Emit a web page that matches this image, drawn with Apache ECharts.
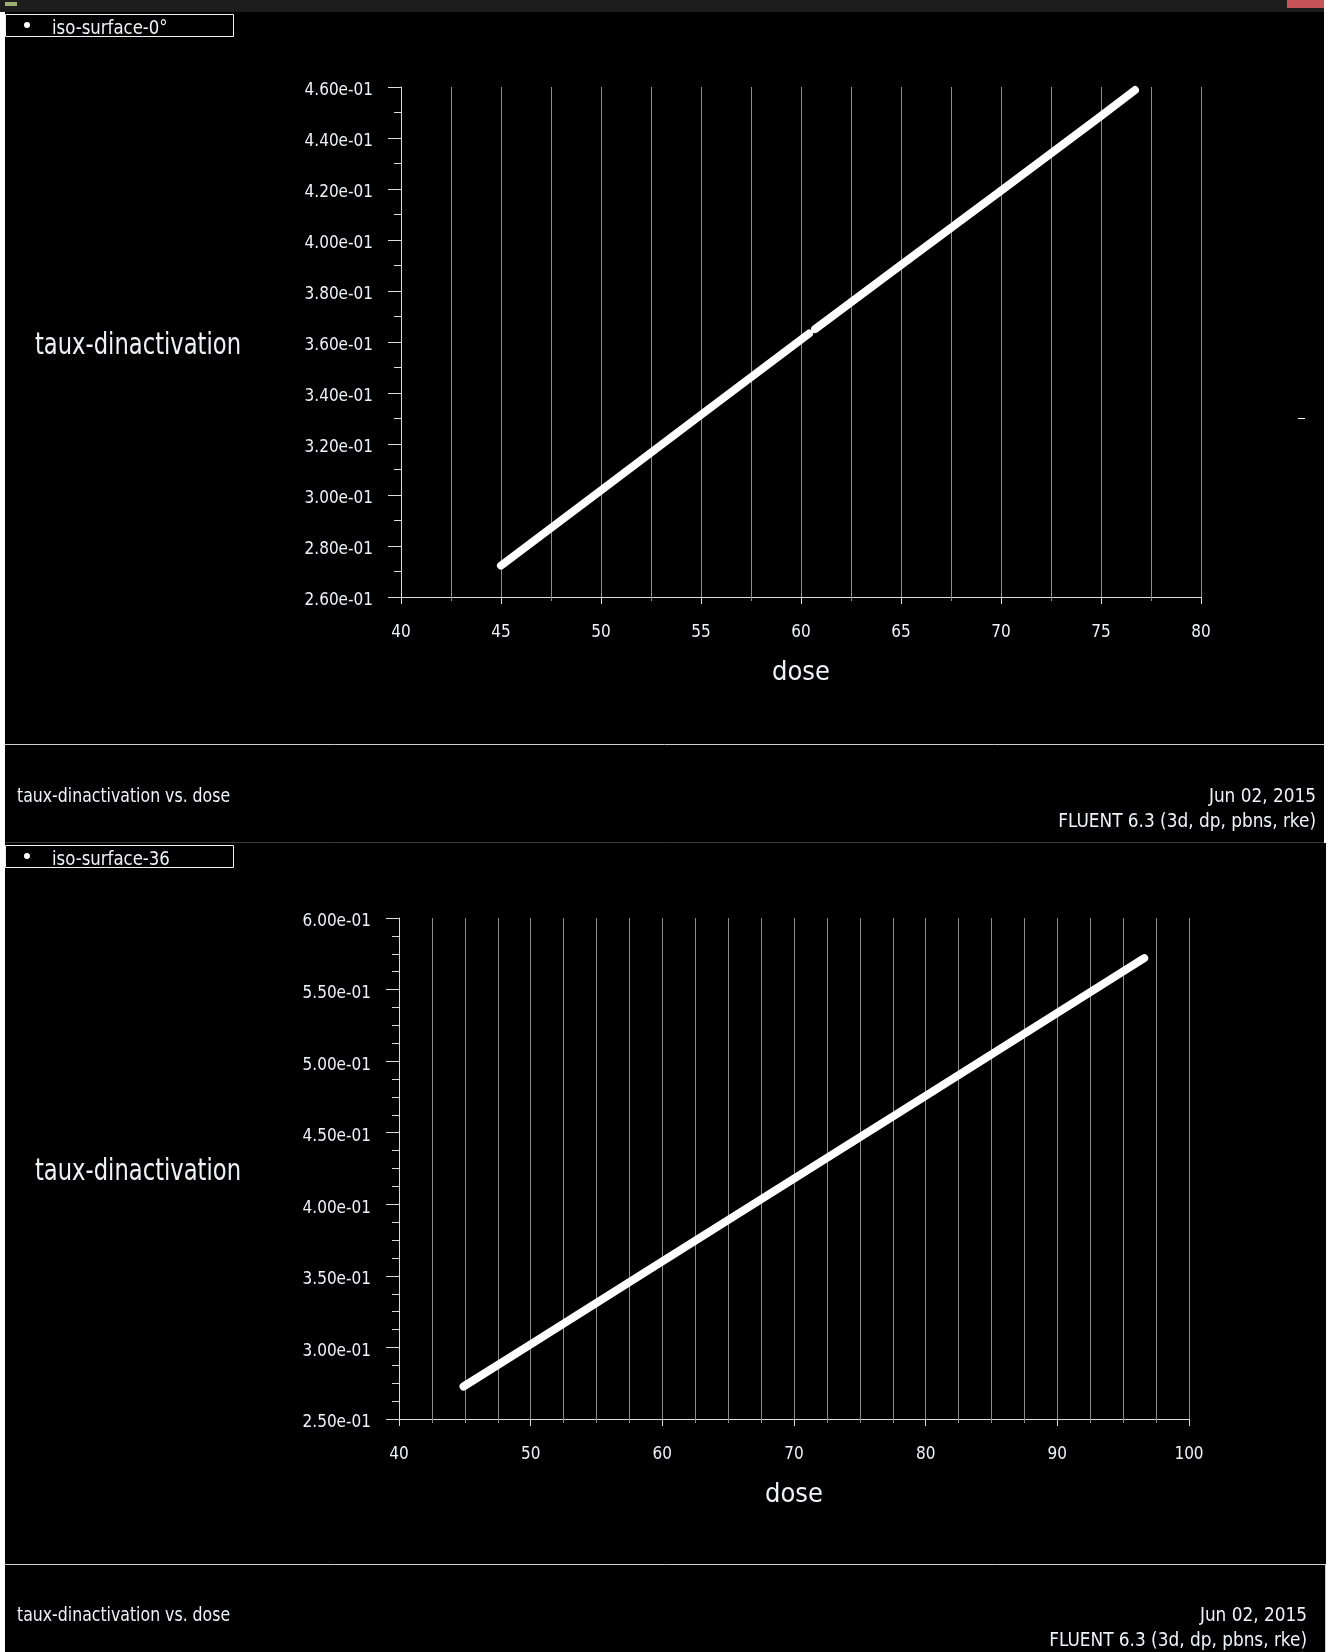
<!DOCTYPE html>
<html>
<head>
<meta charset="utf-8">
<title>taux-dinactivation vs. dose</title>
<script src="https://cdn.jsdelivr.net/npm/echarts@6/dist/echarts.min.js"></script>
<style>
  html, body { margin: 0; padding: 0; background: #ffffff; }
  #chart { width: 1333px; height: 1652px; }
</style>
</head>
<body>
<div id="chart"></div>
<script>
// iso-surface-0° : dose vs. taux-dinactivation (a '-' marks the small break in the curve)
const TOP_DOSE = [45.0, 50, 55, 60.40, 60.55, 60.71, 65, 70, 75, 76.7];
const TOP_TAUX = [0.2723, 0.3018, 0.3314, 0.3633, '-', 0.3651, 0.3902, 0.4193, 0.4486, 0.4588];

// iso-surface-36
const BOTTOM_DOSE = [44.9, 50, 60, 70, 80, 90, 96.6];
const BOTTOM_TAUX = [0.2727, 0.3022, 0.3601, 0.4180, 0.4758, 0.5337, 0.5719];

// axis ranges
const TOP_X = { min: 40, max: 80, interval: 5, minor: 2 };
const TOP_Y = { min: 0.26, max: 0.46, interval: 0.02, minor: 2 };
const BOTTOM_X = { min: 40, max: 100, interval: 10, minor: 4 };
const BOTTOM_Y = { min: 0.25, max: 0.60, interval: 0.05, minor: 4 };

const LEGEND_NAMES = ['iso-surface-0°', 'iso-surface-36'];
const PLOT_TITLE = 'taux-dinactivation vs. dose';
const Y_TITLE = 'taux-dinactivation';
const X_TITLE = 'dose';
const DATE_TEXT = 'Jun 02, 2015';
const VERSION_TEXT = 'FLUENT 6.3 (3d, dp, pbns, rke)';

const FONT = "'Liberation Sans Narrow', 'DejaVu Sans Condensed', 'Liberation Sans', sans-serif";
const TEXT = '#eef3f8';
const AXIS = '#dcdcdc';
const GRID = '#8c8c8c';

// 0.46 -> "4.60e-01"
const sci = v => {
  const s = Number(v).toExponential(2);
  return s.replace(/e([+-])(\d)$/, 'e$10$2');
};

const pairs = (xs, ys) => xs.map((x, i) => [x, ys[i]]);

function xAxisOf(r, gridIndex) {
  return {
    type: 'value', gridIndex, min: r.min, max: r.max, interval: r.interval,
    name: X_TITLE, nameLocation: 'middle', nameGap: 62,
    nameTextStyle: { color: TEXT, fontSize: 27, fontFamily: FONT },
    axisLine: { show: true, lineStyle: { color: AXIS, width: 1 } },
    axisTick: { show: true, inside: false, length: 7, lineStyle: { color: AXIS } },
    minorTick: { show: true, splitNumber: r.minor, length: 4, lineStyle: { color: GRID } },
    axisLabel: { color: TEXT, fontSize: 17, fontFamily: FONT, margin: 27 },
    splitLine: { show: true, lineStyle: { color: GRID, width: 1 } },
    minorSplitLine: { show: true, lineStyle: { color: GRID, width: 1 } }
  };
}

function yAxisOf(r, gridIndex) {
  return {
    type: 'value', gridIndex, min: r.min, max: r.max, interval: r.interval,
    axisLine: { show: true, lineStyle: { color: AXIS, width: 1 } },
    axisTick: { show: true, inside: false, length: 13, lineStyle: { color: AXIS } },
    minorTick: { show: true, splitNumber: r.minor, length: 7, lineStyle: { color: AXIS } },
    axisLabel: {
      color: TEXT, fontSize: 17, fontFamily: FONT, margin: 28, formatter: sci,
      verticalAlign: 'top', lineHeight: 8
    },
    splitLine: { show: false },
    minorSplitLine: { show: false }
  };
}

function curve(xs, ys, idx) {
  return {
    type: 'line', xAxisIndex: idx, yAxisIndex: idx,
    data: pairs(xs, ys), showSymbol: false, symbol: 'none',
    connectNulls: false, clip: true,
    lineStyle: { color: '#ffffff', width: 8, cap: 'round', join: 'round' },
    z: 5
  };
}

function txt(x, y, text, size, align, sx) {
  return {
    type: 'text', x, y, z: 20, scaleX: sx || 1,
    style: { text, fill: TEXT, fontSize: size, fontFamily: FONT, align: align || 'left', verticalAlign: 'middle' }
  };
}
function rect(x, y, w, h, fill) {
  return { type: 'rect', shape: { x, y, width: w, height: h }, style: { fill }, z: 1 };
}
function hline(x1, x2, y, stroke) {
  return { type: 'line', shape: { x1, y1: y, x2, y2: y }, style: { stroke, lineWidth: 1 }, z: 2 };
}
function vline(x, y1, y2, stroke) {
  return { type: 'line', shape: { x1: x, y1, x2: x, y2 }, style: { stroke, lineWidth: 1 }, z: 2 };
}
function legendBox(y, name) {
  return [
    { type: 'rect', shape: { x: 5.5, y: y + 0.5, width: 228, height: 22 }, style: { fill: 'none', stroke: '#f0f0f0', lineWidth: 1 }, z: 10 },
    { type: 'circle', shape: { cx: 27, cy: y + 11, r: 3 }, style: { fill: '#ffffff' }, z: 11 },
    txt(52, y + 15, name, 20, 'left', 0.92)
  ];
}

const chart = echarts.init(document.getElementById('chart'), null, { renderer: 'canvas' });

chart.setOption({
  backgroundColor: '#000000',
  animation: false,
  grid: [
    { left: 401, top: 87, width: 800, height: 510 },
    { left: 399, top: 918, width: 790, height: 501 }
  ],
  xAxis: [xAxisOf(TOP_X, 0), xAxisOf(BOTTOM_X, 1)],
  yAxis: [yAxisOf(TOP_Y, 0), yAxisOf(BOTTOM_Y, 1)],
  series: [curve(TOP_DOSE, TOP_TAUX, 0), curve(BOTTOM_DOSE, BOTTOM_TAUX, 1)],
  graphic: [
    // window frame
    rect(0, 0, 1324, 12, '#1d1d1d'),
    rect(1287, 0, 37, 8, '#c8545a'),
    rect(5, 2, 12, 4, '#9fae72'),
    rect(0, 12, 5, 1640, '#ffffff'),
    rect(1324, 0, 9, 843, '#ffffff'),
    rect(1326, 843, 7, 809, '#ffffff'),
    // panel separators
    hline(5, 1324, 744.5, '#cfcfcf'),
    hline(5, 1324, 842.5, '#3a3a3a'),
    hline(5, 1326, 1564.5, '#cfcfcf'),
    vline(1325.5, 1564, 1652, '#cfcfcf'),
    { type: 'line', shape: { x1: 1298, y1: 418.5, x2: 1305, y2: 418.5 }, style: { stroke: '#ffffff', lineWidth: 1 }, z: 2 },
    // legends
    ...legendBox(14, LEGEND_NAMES[0]),
    ...legendBox(845, LEGEND_NAMES[1]),
    // y-axis titles
    txt(138, 346, Y_TITLE, 30, 'center', 0.84),
    txt(138, 1172, Y_TITLE, 30, 'center', 0.84),
    // footers
    txt(17, 797, PLOT_TITLE, 20, 'left', 0.875),
    txt(1316, 797, DATE_TEXT, 20, 'right', 0.94),
    txt(1316, 822, VERSION_TEXT, 20, 'right', 0.94),
    txt(17, 1616, PLOT_TITLE, 20, 'left', 0.875),
    txt(1307, 1616, DATE_TEXT, 20, 'right', 0.94),
    txt(1307, 1641, VERSION_TEXT, 20, 'right', 0.94)
  ]
});
</script>
</body>
</html>
